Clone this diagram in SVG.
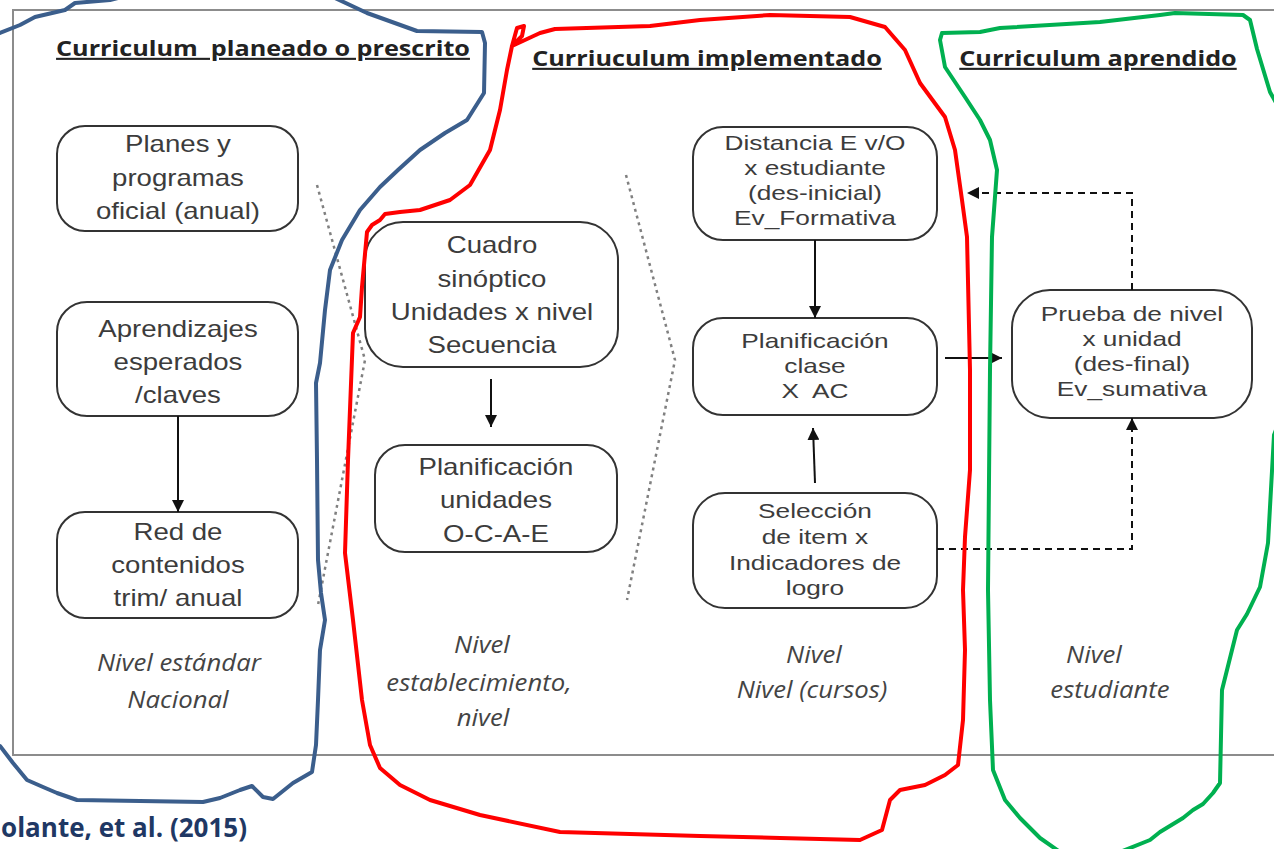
<svg xmlns="http://www.w3.org/2000/svg" width="1274" height="849" viewBox="0 0 1274 849">
<style>
.bg{fill:#ffffff}
.frame{fill:none;stroke:#8c8c8c;stroke-width:2}
.sep{fill:none;stroke:#808080;stroke-width:2.5;stroke-dasharray:3 4}
.node rect{fill:#ffffff;stroke:#333333;stroke-width:2}
.nt{font-family:"Liberation Sans",Arial,sans-serif;font-size:23px;fill:#3c3c3c;text-anchor:middle;white-space:pre;transform-box:fill-box;transform-origin:center;transform:scaleX(1.2)}
.sm{font-size:21px;transform:scaleX(1.25)}
.title{font-family:"Open Sans","Liberation Sans",sans-serif;font-size:21px;font-weight:bold;fill:#222222;text-anchor:middle;text-decoration:underline;white-space:pre;transform-box:fill-box;transform-origin:center;transform:scaleX(1.2)}
.lvl{font-family:"Open Sans","Liberation Sans",sans-serif;font-size:23px;font-style:italic;fill:#444444;text-anchor:middle;transform-box:fill-box;transform-origin:center;transform:scaleX(1.12)}
.cite{font-family:"Open Sans","Liberation Sans",sans-serif;font-size:26px;font-weight:bold;fill:#1f3864;text-anchor:end}
.conn line,.conn path{fill:none;stroke:#111111;stroke-width:2}
.conn .dash{stroke-dasharray:7 5}
.hand{fill:none;stroke-width:4;stroke-linejoin:round;stroke-linecap:round}
</style>
<defs>
<marker id="ah" viewBox="0 0 12 12" refX="12" refY="6" markerWidth="12" markerHeight="12" markerUnits="userSpaceOnUse" orient="auto">
<path d="M0,0 L12,6 L0,12 z" fill="#111111"/>
</marker>
</defs>
<rect class="bg" x="0" y="0" width="1274" height="849"/>
<rect class="frame" x="13" y="10" width="1275" height="745"/>

<g id="separators">
<polyline class="sep" points="317,185 365,360 318,605"/>
<polyline class="sep" points="626,175 675,360 627,600"/>
</g>

<g id="titles">
<text class="title" x="263" y="56">Curriculum  planeado o prescrito</text>
<text class="title" x="707" y="66">Curriuculum implementado</text>
<text class="title" x="1098" y="66">Curriculum aprendido</text>
</g>

<g id="n1" class="node">
<rect x="57" y="126" width="241" height="105" rx="28"/>
<text class="nt" x="178" y="152"><tspan x="178">Planes y</tspan><tspan x="178" dy="34">programas</tspan><tspan x="178" dy="33">oficial (anual)</tspan></text>
</g>
<g id="n2" class="node">
<rect x="57" y="302" width="241" height="114" rx="30"/>
<text class="nt" x="178" y="337"><tspan x="178">Aprendizajes</tspan><tspan x="178" dy="33">esperados</tspan><tspan x="178" dy="33">/claves</tspan></text>
</g>
<g id="n3" class="node">
<rect x="57" y="512" width="241" height="106" rx="28"/>
<text class="nt" x="178" y="540"><tspan x="178">Red de</tspan><tspan x="178" dy="33">contenidos</tspan><tspan x="178" dy="33">trim/ anual</tspan></text>
</g>
<g id="n4" class="node">
<rect x="365" y="222" width="253" height="145" rx="38"/>
<text class="nt" x="492" y="253"><tspan x="492">Cuadro</tspan><tspan x="492" dy="34">sinóptico</tspan><tspan x="492" dy="33">Unidades x nivel</tspan><tspan x="492" dy="33">Secuencia</tspan></text>
</g>
<g id="n5" class="node">
<rect x="375" y="445" width="242" height="107" rx="30"/>
<text class="nt" x="496" y="475"><tspan x="496">Planificación</tspan><tspan x="496" dy="33">unidades</tspan><tspan x="496" dy="34">O-C-A-E</tspan></text>
</g>
<g id="n6" class="node">
<rect x="693" y="127" width="244" height="113" rx="30"/>
<text class="nt sm" x="815" y="150"><tspan x="815">Distancia E v/O</tspan><tspan x="815" dy="25">x estudiante</tspan><tspan x="815" dy="25">(des-inicial)</tspan><tspan x="815" dy="25">Ev_Formativa</tspan></text>
</g>
<g id="n7" class="node">
<rect x="693" y="318" width="244" height="97" rx="30"/>
<text class="nt sm" x="815" y="348"><tspan x="815">Planificación</tspan><tspan x="815" dy="25">clase</tspan><tspan x="815" dy="25">X  AC</tspan></text>
</g>
<g id="n8" class="node">
<rect x="693" y="493" width="244" height="115" rx="32"/>
<text class="nt sm" x="815" y="518"><tspan x="815">Selección</tspan><tspan x="815" dy="26">de item x</tspan><tspan x="815" dy="26">Indicadores de</tspan><tspan x="815" dy="25">logro</tspan></text>
</g>
<g id="n9" class="node">
<rect x="1012" y="290" width="240" height="128" rx="38"/>
<text class="nt sm" x="1132" y="321"><tspan x="1132">Prueba de nivel</tspan><tspan x="1132" dy="25">x unidad</tspan><tspan x="1132" dy="25">(des-final)</tspan><tspan x="1132" dy="25">Ev_sumativa</tspan></text>
</g>

<g id="connectors" class="conn">
<line x1="178" y1="416" x2="178" y2="512" marker-end="url(#ah)"/>
<line x1="491" y1="379" x2="491" y2="427" marker-end="url(#ah)"/>
<line x1="815" y1="240" x2="815" y2="318" marker-end="url(#ah)"/>
<line x1="815" y1="483" x2="813" y2="428" marker-end="url(#ah)"/>
<line x1="945" y1="358" x2="1002" y2="358" marker-end="url(#ah)"/>
<path class="dash" d="M1132,290 V193 H967" marker-end="url(#ah)"/>
<path class="dash" d="M937,549 H1132 V418" marker-end="url(#ah)"/>
</g>

<g id="levels">
<text class="lvl" x="179" y="671">Nivel estándar</text>
<text class="lvl" x="178" y="708">Nacional</text>
<text class="lvl" x="482" y="653">Nivel</text>
<text class="lvl" x="479" y="691">establecimiento,</text>
<text class="lvl" x="483" y="726">nivel</text>
<text class="lvl" x="814" y="663">Nivel</text>
<text class="lvl" x="812" y="698">Nivel (cursos)</text>
<text class="lvl" x="1094" y="663">Nivel</text>
<text class="lvl" x="1110" y="698">estudiante</text>
</g>

<text class="cite" x="247" y="837">olante, et al. (2015)</text>

<g id="outlines">
<path class="hand" stroke="#3b5e8c" d="M0,746 L13,763 L27,780 L43,787 L57,793 L77,800 L140,801 L203,802 L220,798 L240,790 L252,786 L263,797 L273,799 L293,783 L312,772 L316,745 L318,700 L320,650 L325,620 L321,593 L318,560 L317,460 L316,383 L320,363 L325,310 L330,270 L342,240 L360,210 L380,187 L398,170 L420,150 L445,133 L467,120 L484,93 L485,43 L482,32 L417,31 L367,13 L335,-2 L300,-10 L150,-10 L110,0 L75,3 L65,10 L35,17 L20,25 L0,33"/>
<path class="hand" stroke="#ff0000" d="M512,46 L517,28 L524,26 L522,36 L512,46 L540,33 L555,29 L650,26 L700,20 L770,15 L850,17 L885,27 L905,50 L920,83 L945,117 L955,150 L962,200 L967,237 L970,370 L970,470 L965,537 L963,590 L965,650 L963,720 L958,765 L945,775 L925,785 L900,790 L890,800 L882,830 L860,840 L780,838 L700,836 L560,832 L480,815 L430,800 L400,785 L380,768 L370,745 L362,700 L353,620 L345,553 L348,460 L353,333 L360,317 L362,287 L367,232 L372,225 L380,220 L385,214 L400,212 L420,210 L450,200 L470,185 L490,150 L500,110 L507,70 L512,46"/>
<path class="hand" stroke="#00b050" d="M942,33 L980,32 L1000,28 L1100,22 L1160,15 L1175,13 L1243,15 L1250,20 L1257,49 L1270,92 L1280,110 L1280,420 L1274,435 L1268,543 L1260,587 L1247,614 L1237,630 L1222,690 L1220,783 L1213,793 L1203,804 L1193,810 L1183,818 L1160,832 L1150,840 L1120,852 L1060,852 L1040,838 L1020,818 L1005,800 L993,770 L990,700 L988,590 L990,370 L992,237 L997,170 L990,140 L980,120 L965,97 L945,67 L940,40 L942,33"/>
</g>
</svg>
